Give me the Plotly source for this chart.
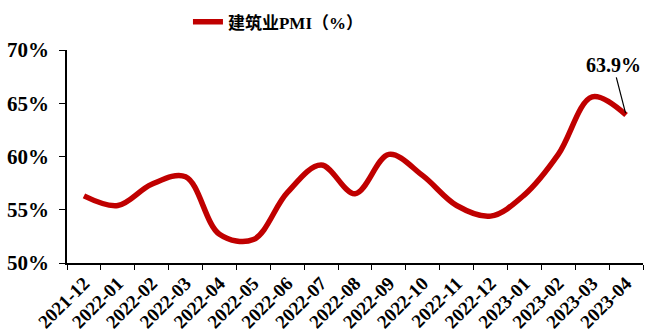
import plotly.graph_objects as go

months = ["2021-12", "2022-01", "2022-02", "2022-03", "2022-04", "2022-05", "2022-06",
          "2022-07", "2022-08", "2022-09", "2022-10", "2022-11", "2022-12", "2023-01",
          "2023-02", "2023-03", "2023-04"]
pmi = [56.3, 55.4, 57.4, 58.1, 52.7, 52.2, 56.6, 59.2, 56.5, 60.2, 58.2, 55.4, 54.4,
       56.4, 60.2, 65.6, 63.9]
y_ticks = [50, 55, 60, 65, 70]
y_labels = ["50%", "55%", "60%", "65%", "70%"]

serif = "Liberation Serif, Times New Roman, Noto Sans CJK SC, serif"

fig = go.Figure()
fig.add_trace(go.Scatter(
    x=months, y=pmi, mode="lines", name="<b>建筑业PMI（%）</b>",
    line=dict(color="#C00000", width=5.5, shape="spline", smoothing=1.0),
))

fig.add_annotation(
    x=months[-1], y=pmi[-1], text="<b>%.1f%%</b>" % pmi[-1],
    showarrow=True, arrowhead=0, arrowwidth=1.2, arrowcolor="black",
    ax=-13, ay=-50, standoff=2,
    font=dict(family=serif, size=20, color="black"),
)

fig.update_layout(
    width=646, height=336,
    margin=dict(l=67, r=3, t=50, b=73, autoexpand=False),
    paper_bgcolor="white", plot_bgcolor="white",
    showlegend=True,
    legend=dict(orientation="h", x=0.21, y=1.13, xanchor="left", yanchor="middle",
                font=dict(family=serif, size=17, color="black"),
                itemwidth=30, bgcolor="rgba(0,0,0,0)"),
    xaxis=dict(
        type="category", range=[-0.5, len(months) - 0.5], automargin=False,
        showline=True, linecolor="black", linewidth=1.5,
        ticks="outside", ticklen=5, tickcolor="black", tickson="boundaries",
        tickangle=-45, showgrid=False,
        tickfont=dict(family=serif, size=19, color="black", weight="bold"),
    ),
    yaxis=dict(
        range=[50, 70], tickvals=y_ticks, ticktext=y_labels, automargin=False,
        showline=True, linecolor="black", linewidth=1.5,
        ticks="outside", ticklen=6, tickcolor="black", showgrid=False, zeroline=False,
        ticklabelstandoff=6,
        tickfont=dict(family=serif, size=21, color="black", weight="bold"),
    ),
)

fig.write_html("out.html")
